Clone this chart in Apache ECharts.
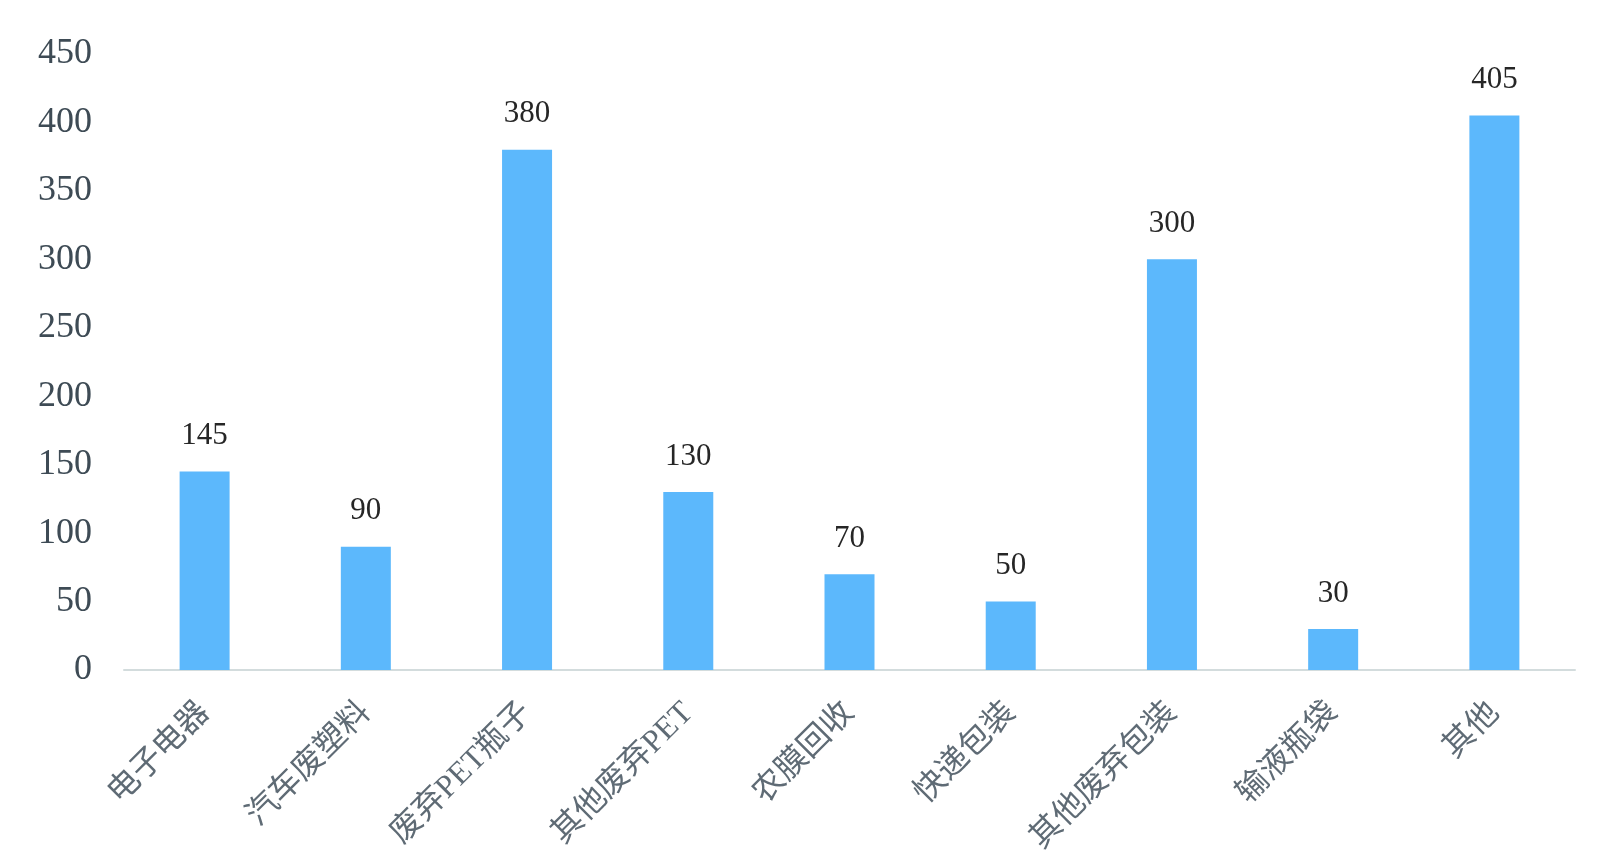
<!DOCTYPE html>
<html><head><meta charset="utf-8">
<script src="https://cdn.jsdelivr.net/npm/echarts@6/dist/echarts.min.js"></script>
<style>html,body{margin:0;padding:0;background:#fff}#c{width:1600px;height:866px}</style>
</head><body><div id="c"></div>
<script>
const categories = ['电子电器','汽车废塑料','废弃PET瓶子','其他废弃PET','农膜回收','快递包装','其他废弃包装','输液瓶袋','其他'];
const values = [145, 90, 380, 130, 70, 50, 300, 30, 405];
const yMin = 0, yMax = 450, yInterval = 50;

const chart = echarts.init(document.getElementById('c'), null, {renderer:'canvas'});
chart.setOption({
  animation:false,
  backgroundColor:'#ffffff',
  grid:{left:124, right:25, top:54, bottom:196, containLabel:false},
  xAxis:{
    type:'category', data:categories,
    axisLine:{show:true, lineStyle:{color:'#d3dcdd', width:2}},
    axisTick:{show:false},
    axisLabel:{rotate:45, margin:38, fontSize:32, color:'#5f6b75', interval:0,
      fontFamily:'"Liberation Serif","Noto Sans CJK SC",serif'}
  },
  yAxis:{
    type:'value', min:yMin, max:yMax, interval:yInterval,
    axisLine:{show:false}, axisTick:{show:false}, splitLine:{show:false},
    axisLabel:{fontSize:36, margin:32, color:'#3e4b55', fontFamily:'"Liberation Serif",serif'}
  },
  series:[{
    type:'bar', data:values, barWidth:50,
    itemStyle:{color:'#5cb8fc'},
    label:{show:true, position:'top', distance:20, fontSize:31, color:'#262626',
      fontFamily:'"Liberation Serif",serif'}
  }]
});
</script></body></html>
